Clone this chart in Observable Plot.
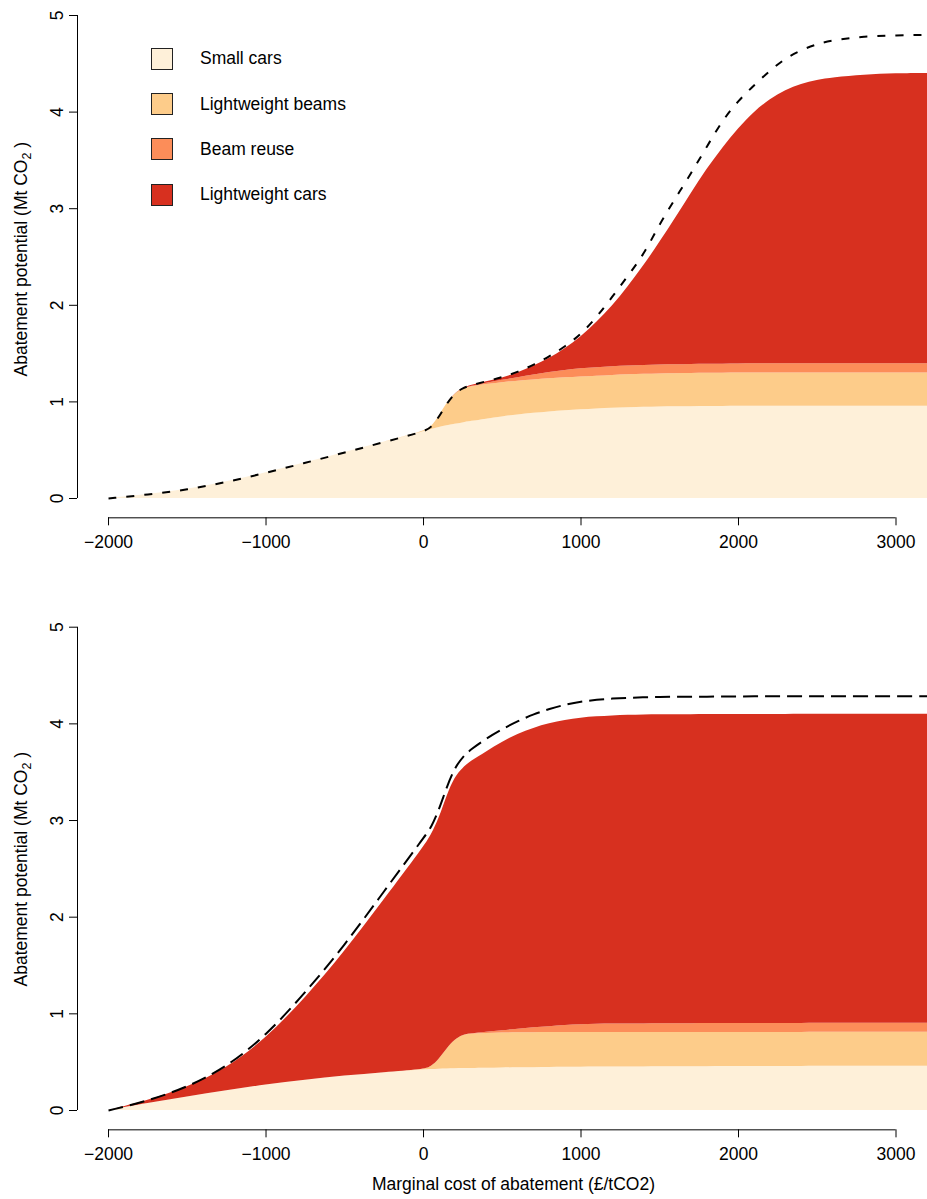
<!DOCTYPE html>
<html>
<head>
<meta charset="utf-8">
<script src="https://cdn.jsdelivr.net/npm/d3@7"></script>
<script src="https://cdn.jsdelivr.net/npm/@observablehq/plot@0.6"></script>
<style>
  html, body { margin: 0; padding: 0; background: #fff; }
  body { font-family: "Liberation Sans", Arial, Helvetica, sans-serif; }
  #wrap { position: relative; width: 927px; height: 1199px; overflow: hidden; }
  #wrap svg { display: block; }
  .legend { position: absolute; left: 0; top: 0; }
  .lg-row { position: absolute; display: flex; align-items: center; white-space: nowrap; font-size: 17.5px; color: #000; }
  .lg-sw { width: 22px; height: 22px; box-sizing: border-box; border: 1px solid #222; margin-right: 27px; }
</style>
</head>
<body>
<div id="wrap"></div>
<script>
// ---------- data ----------
const seriesNames = ["Small cars", "Lightweight beams", "Beam reuse", "Lightweight cars"];
const seriesColors = ["#fef0d9", "#fdcc8a", "#fc8d59", "#d7301f"];

const xTicks = [-2000, -1000, 0, 1000, 2000, 3000];
const yTicks = [0, 1, 2, 3, 4, 5];

const costs = [-2000, -1750, -1500, -1250, -1000, -750, -500, -250, 0, 50, 100, 150, 200, 250, 300,
  400, 500, 600, 700, 800, 900, 1000, 1100, 1200, 1300, 1400, 1500, 1600, 1700, 1800, 1900, 2000,
  2100, 2200, 2300, 2400, 2500, 2600, 2800, 3000, 3200];

// top panel (layer thickness, Mt CO2)
const topSmallCars = [0, 0.04, 0.09, 0.17, 0.265, 0.37, 0.475, 0.585, 0.69,
  0.715, 0.735, 0.752, 0.768, 0.783, 0.797,
  0.822, 0.845, 0.865, 0.882, 0.897, 0.909, 0.918, 0.928, 0.935, 0.94, 0.945, 0.948, 0.95, 0.951, 0.952, 0.953, 0.955,
  0.955, 0.955, 0.955, 0.955, 0.955, 0.955, 0.955, 0.955, 0.955];
const topLightweightBeams = [0, 0, 0, 0, 0, 0, 0, 0, 0,
  0.02, 0.115, 0.238, 0.317, 0.352, 0.358,
  0.358, 0.355, 0.35, 0.346, 0.343, 0.341, 0.34, 0.338, 0.34, 0.34, 0.34, 0.342, 0.342, 0.343, 0.344, 0.344, 0.343,
  0.345, 0.345, 0.345, 0.345, 0.345, 0.345, 0.345, 0.345, 0.345];
const topBeamReuse = [0, 0, 0, 0, 0, 0, 0, 0, 0,
  0, 0, 0, 0, 0, 0.005,
  0.015, 0.025, 0.035, 0.05, 0.065, 0.077, 0.085, 0.088, 0.09, 0.092, 0.092, 0.092, 0.092, 0.093, 0.093, 0.093, 0.094,
  0.094, 0.094, 0.094, 0.094, 0.094, 0.094, 0.094, 0.094, 0.094];
const topLightweightCars = [0, 0, 0, 0, 0, 0, 0, 0, 0,
  0, 0, 0, 0, 0.005, 0.01,
  0.015, 0.02, 0.05, 0.094, 0.142, 0.222, 0.327, 0.466, 0.625, 0.818, 1.033, 1.268, 1.516, 1.773, 2.021, 2.24, 2.438,
  2.606, 2.736, 2.831, 2.896, 2.936, 2.961, 2.991, 3.004, 3.006];
const topTotal = [0, 0.04, 0.09, 0.17, 0.265, 0.37, 0.475, 0.585, 0.69,
  0.735, 0.85, 0.99, 1.09, 1.145, 1.17,
  1.215, 1.255, 1.31, 1.385, 1.47, 1.575, 1.70, 1.88, 2.09, 2.31, 2.53, 2.845, 3.11, 3.37, 3.645, 3.92, 4.12,
  4.28, 4.43, 4.56, 4.645, 4.705, 4.745, 4.785, 4.795, 4.80];

// bottom panel (layer thickness, Mt CO2)
const botSmallCars = [0, 0.075, 0.14, 0.205, 0.265, 0.315, 0.357, 0.392, 0.422,
  0.425, 0.428, 0.43, 0.432, 0.434, 0.435,
  0.437, 0.44, 0.442, 0.443, 0.445, 0.447, 0.448, 0.449, 0.45, 0.451, 0.451, 0.452, 0.453, 0.453, 0.454, 0.454, 0.455,
  0.455, 0.456, 0.456, 0.456, 0.457, 0.457, 0.457, 0.458, 0.458];
const botLightweightBeams = [0, 0, 0, 0, 0, 0, 0, 0, 0,
  0.025, 0.10, 0.21, 0.298, 0.346, 0.355,
  0.36, 0.362, 0.362, 0.362, 0.361, 0.36, 0.36, 0.359, 0.358, 0.357, 0.357, 0.356, 0.355, 0.355, 0.354, 0.354, 0.353,
  0.352, 0.352, 0.352, 0.352, 0.352, 0.352, 0.352, 0.352, 0.352];
const botBeamReuse = [0, 0, 0, 0, 0, 0, 0, 0, 0,
  0, 0, 0, 0, 0, 0.003,
  0.012, 0.024, 0.037, 0.05, 0.062, 0.072, 0.08, 0.084, 0.086, 0.087, 0.088, 0.089, 0.09, 0.09, 0.091, 0.091, 0.092,
  0.093, 0.093, 0.093, 0.093, 0.093, 0.093, 0.093, 0.093, 0.093];
const botLightweightCars = [0, 0.025, 0.095, 0.225, 0.475, 0.845, 1.283, 1.788, 2.298,
  2.40, 2.492, 2.62, 2.72, 2.76, 2.817,
  2.901, 2.984, 3.054, 3.10, 3.135, 3.156, 3.172, 3.181, 3.189, 3.194, 3.196, 3.197, 3.197, 3.197, 3.197, 3.197, 3.197,
  3.197, 3.197, 3.197, 3.197, 3.197, 3.197, 3.197, 3.197, 3.197];
const botTotal = [0, 0.10, 0.24, 0.45, 0.775, 1.22, 1.71, 2.27, 2.82,
  2.93, 3.12, 3.36, 3.55, 3.66, 3.735,
  3.85, 3.945, 4.03, 4.10, 4.155, 4.20, 4.23, 4.25, 4.262, 4.27, 4.275, 4.278, 4.28, 4.28, 4.282, 4.282, 4.283,
  4.285, 4.285, 4.285, 4.285, 4.285, 4.285, 4.285, 4.285, 4.285];

const yTitleMain = "Abatement potential (Mt CO";
const yTitleSub = "2";
const yTitleEnd = " )";
const xTitle = "Marginal cost of abatement (\u00a3/tCO2)";

// ---------- helpers ----------
const FONT = '"Liberation Sans", Arial, Helvetica, sans-serif';
const FS = 17.5;
const fmt = d => (d < 0 ? "\u2212" : "") + Math.abs(d);

function toLong(layers) {
  const rows = [];
  layers.forEach((vals, k) => {
    vals.forEach((v, i) => rows.push({cost: costs[i], value: v, series: seriesNames[k]}));
  });
  return rows;
}
function toLine(vals) { return vals.map((v, i) => ({cost: costs[i], value: v})); }

const xDomain = [-2197, 3200];
const yPad = 0.04 * (yTicks[yTicks.length - 1] - yTicks[0]);

function panel({height, y0px, y5px, marginTop, layers, total, dash, xLabel}) {
  const axisLinePx = y0px + (y0px - y5px) / (yTicks[yTicks.length - 1] - yTicks[0]) * yPad;
  const marginBottom = height - axisLinePx;
  const marks = [
    Plot.areaY(toLong(layers), {x: "cost", y: "value", fill: "series", curve: "basis"}),
    Plot.line(toLine(total), {x: "cost", y: "value", curve: "basis", stroke: "#000",
      strokeWidth: 2, strokeDasharray: dash, strokeLinecap: "butt"}),
    Plot.ruleX([xDomain[0]], {y1: yTicks[0], y2: yTicks[yTicks.length - 1], stroke: "#000"}),
    Plot.ruleY([yTicks[0] - yPad], {x1: xTicks[0], x2: xTicks[xTicks.length - 1], stroke: "#000"}),
    Plot.axisX(xTicks, {anchor: "bottom", label: null, tickSize: 8, tickPadding: 10, tickFormat: fmt, fontSize: FS}),
    Plot.axisY(yTicks, {anchor: "left", label: null, tickSize: 8, tickPadding: 7, tickRotate: -90, tickFormat: d => String(d), fontSize: FS}),
    Plot.text([yTitleMain + yTitleSub + yTitleEnd], {frameAnchor: "left", dx: -56, rotate: -90,
      textAnchor: "middle", lineAnchor: "middle", fontSize: FS, fill: "#000"})
  ];
  if (xLabel) {
    marks.push(Plot.text([xLabel], {frameAnchor: "bottom", dx: 11, dy: 55, textAnchor: "middle",
      lineAnchor: "middle", fontSize: FS, fill: "#000"}));
  }
  const svg = Plot.plot({
    width: 927, height,
    marginLeft: 77, marginRight: 0, marginTop, marginBottom,
    x: {domain: xDomain, label: null},
    y: {domain: [yTicks[0], yTicks[yTicks.length - 1]], range: [y0px, y5px], label: null},
    color: {domain: seriesNames, range: seriesColors},
    style: {fontFamily: FONT, fontSize: FS + "px", color: "#000", background: "transparent", overflow: "visible"},
    marks
  });
  // subscript for CO2 in the y title
  svg.querySelectorAll("text").forEach(t => {
    if (t.textContent === yTitleMain + yTitleSub + yTitleEnd) {
      t.textContent = "";
      const ns = "http://www.w3.org/2000/svg";
      t.appendChild(document.createTextNode(yTitleMain));
      const s = document.createElementNS(ns, "tspan");
      s.setAttribute("dy", "4"); s.setAttribute("font-size", "12.5"); s.textContent = yTitleSub;
      t.appendChild(s);
      const e = document.createElementNS(ns, "tspan");
      e.setAttribute("dy", "-4"); e.textContent = yTitleEnd;
      t.appendChild(e);
    }
  });
  return svg;
}

const wrap = document.getElementById("wrap");
wrap.appendChild(panel({
  height: 600, y0px: 498, y5px: 15, marginTop: 0,
  layers: [topSmallCars, topLightweightBeams, topBeamReuse, topLightweightCars],
  total: topTotal, dash: "8,10"
}));
wrap.appendChild(panel({
  height: 599, y0px: 510, y5px: 26.7, marginTop: 8,
  layers: [botSmallCars, botLightweightBeams, botBeamReuse, botLightweightCars],
  total: botTotal, dash: "15,7", xLabel: xTitle
}));

// legend (top panel)
const lg = document.createElement("div");
lg.className = "legend";
seriesNames.forEach((name, i) => {
  const row = document.createElement("div");
  row.className = "lg-row";
  row.style.left = "151px";
  row.style.top = (47.7 + i * 45.33) + "px";
  const sw = document.createElement("div");
  sw.className = "lg-sw";
  sw.style.background = seriesColors[i];
  const tx = document.createElement("span");
  tx.textContent = name;
  row.appendChild(sw); row.appendChild(tx);
  lg.appendChild(row);
});
wrap.appendChild(lg);
</script>
</body>
</html>
